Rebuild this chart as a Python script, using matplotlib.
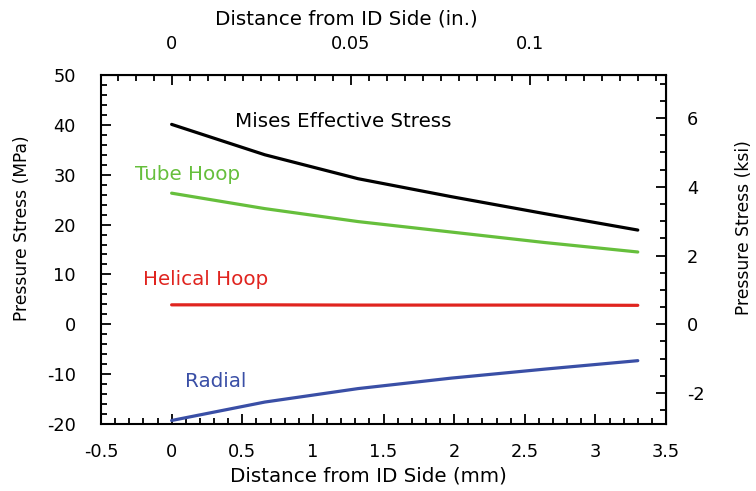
import numpy as np
import matplotlib
matplotlib.use("Agg")
import matplotlib.pyplot as plt
from matplotlib.ticker import MultipleLocator

plt.rcParams['font.family'] = ['DejaVu Sans']
plt.rcParams['axes.unicode_minus'] = False

# distance from ID side (mm)
dist_mm = [0.0, 0.66, 1.32, 1.98, 2.64, 3.30]

mises = [40.1, 34.0, 29.2, 25.6, 22.2, 18.9]
tube_hoop = [26.3, 23.2, 20.6, 18.5, 16.4, 14.5]
helical_hoop = [3.9, 3.9, 3.85, 3.85, 3.85, 3.8]
radial = [-19.3, -15.6, -12.9, -10.8, -9.0, -7.3]

MPA_PER_KSI = 6.894757
MM_PER_IN = 25.4

fig = plt.figure(figsize=(7.56, 4.91), dpi=100)
ax = fig.add_axes([0.1336, 0.1365, 0.7474, 0.7107])

ax.plot(dist_mm, mises, color='black', lw=2.3, solid_capstyle='round')
ax.plot(dist_mm, tube_hoop, color='#66bf3c', lw=2.3, solid_capstyle='round')
ax.plot(dist_mm, helical_hoop, color='#e0241f', lw=2.3, solid_capstyle='round')
ax.plot(dist_mm, radial, color='#3a4fa6', lw=2.3, solid_capstyle='round')

fs = 14.3
tfs = 12.8
vfs = 12.3
ax.text(0.449, 39.6, 'Mises Effective Stress', color='black', fontsize=fs, va='baseline')
ax.text(-0.259, 28.9, 'Tube Hoop', color='#66bf3c', fontsize=fs, va='baseline')
ax.text(-0.203, 7.9, 'Helical Hoop', color='#e0241f', fontsize=fs, va='baseline')
ax.text(0.095, -12.5, 'Radial', color='#3a4fa6', fontsize=fs, va='baseline')

ax.set_xlim(-0.5, 3.5)
ax.set_ylim(-20, 50)
ax.xaxis.set_minor_locator(MultipleLocator(0.1))
ax.yaxis.set_major_locator(MultipleLocator(10))
ax.yaxis.set_minor_locator(MultipleLocator(2))
ax.set_xticks([-0.5, 0, 0.5, 1, 1.5, 2, 2.5, 3, 3.5],
              ['-0.5', '0', '0.5', '1', '1.5', '2', '2.5', '3', '3.5'])
ax.tick_params(which='both', direction='in', top=False, right=False,
               labelsize=tfs, width=1.3)
ax.tick_params(which='major', length=7)
ax.tick_params(which='minor', length=4)
ax.tick_params(axis='x', which='major', pad=14)
ax.tick_params(axis='y', which='major', pad=18)
for s in ax.spines.values():
    s.set_linewidth(1.5)

top = ax.secondary_xaxis('top', functions=(lambda x: x / MM_PER_IN, lambda x: x * MM_PER_IN))
top.set_xticks([0, 0.05, 0.1], ['0', '0.05', '0.1'])
top.xaxis.set_minor_locator(MultipleLocator(0.005))
top.tick_params(which='both', direction='in', labelsize=tfs, width=1.3)
top.tick_params(which='major', length=7, pad=16)
top.tick_params(which='minor', length=4)

right = ax.secondary_yaxis('right', functions=(lambda y: y / MPA_PER_KSI, lambda y: y * MPA_PER_KSI))
right.set_yticks([-2, 0, 2, 4, 6])
right.yaxis.set_minor_locator(MultipleLocator(0.5))
right.tick_params(which='both', direction='in', labelsize=tfs, width=1.3)
right.tick_params(which='major', length=7, pad=15)
right.tick_params(which='minor', length=4)

# axis titles placed as in the original layout
fig.text(0.487, 0.031, 'Distance from ID Side (mm)', fontsize=fs, ha='center', va='center')
fig.text(0.458, 0.961, 'Distance from ID Side (in.)', fontsize=fs, ha='center', va='center')
fig.text(0.029, 0.536, 'Pressure Stress (MPa)', fontsize=vfs, rotation=90, ha='center', va='center')
fig.text(0.984, 0.536, 'Pressure Stress (ksi)', fontsize=vfs, rotation=90, ha='center', va='center')

fig.savefig('out.png', dpi=100)
